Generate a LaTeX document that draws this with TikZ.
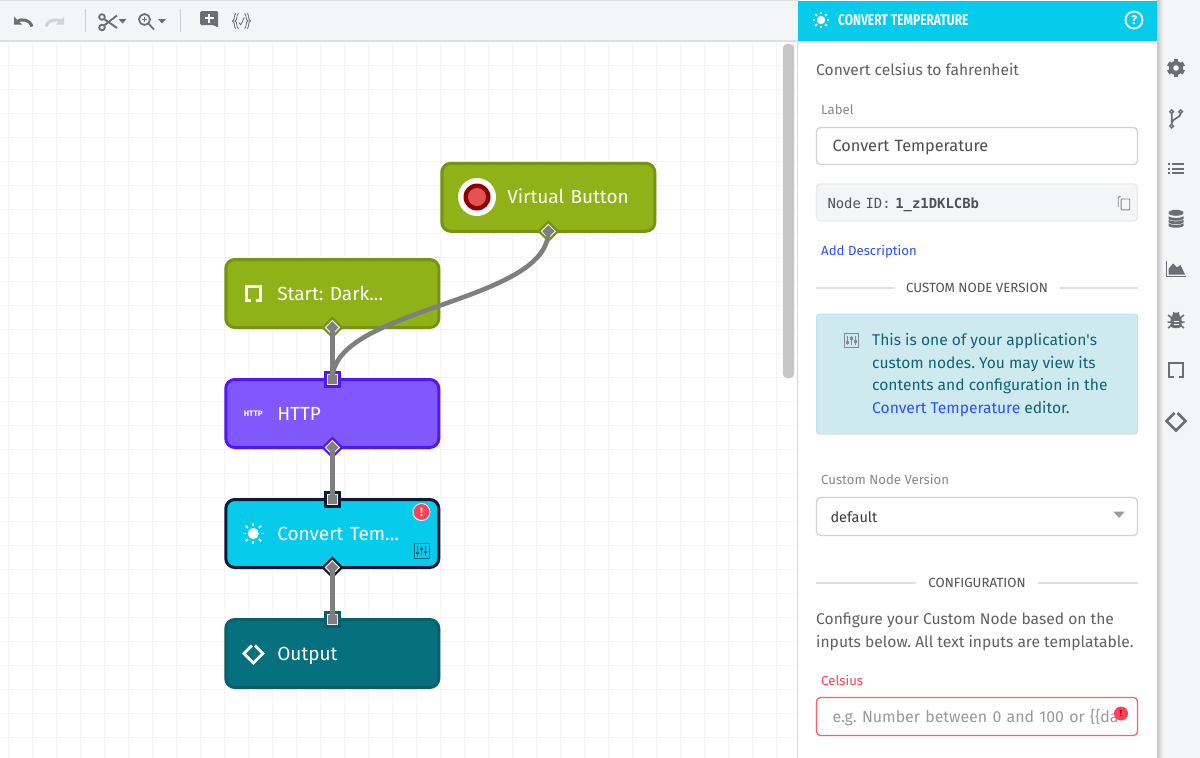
\documentclass[tikz,border=0pt]{standalone}
\usepackage{fontspec}
\setmainfont{Fira Sans}
\newfontfamily\headfont[FakeStretch=0.775]{Fira Sans}
\newfontfamily\monofont{DejaVu Sans Mono}
\usetikzlibrary{positioning,shapes.geometric}
\definecolor{canvasgrid}{HTML}{F3F4F4}
\definecolor{barback}{HTML}{F4F5F7}
\definecolor{barline}{HTML}{DFE0E2}
\definecolor{icongray}{HTML}{6B6E72}
\definecolor{wire}{HTML}{7F7F7F}
\definecolor{oliveback}{HTML}{8FB218}
\definecolor{oliveline}{HTML}{769312}
\definecolor{violetback}{HTML}{8158FE}
\definecolor{violetline}{HTML}{5017F6}
\definecolor{cyanback}{HTML}{06CBEA}
\definecolor{navyline}{HTML}{111A33}
\definecolor{tealback}{HTML}{06707E}
\definecolor{tealline}{HTML}{0A5F6A}
\definecolor{bodytext}{HTML}{5E6064}
\definecolor{softtext}{HTML}{85888C}
\definecolor{linkblue}{HTML}{2D4EFF}
\definecolor{alertred}{HTML}{FF4058}
\definecolor{infoback}{HTML}{CFEAEF}
\definecolor{infoline}{HTML}{BFE3EA}
\definecolor{infotext}{HTML}{0C6474}
\tikzstyle{block}=[rectangle,rounded corners=9,line width=3,minimum width=213,minimum height=68,text width=213,text height=18,text depth=5,inner sep=0,outer sep=0,align=left,text=white,font=\fontsize{19}{23}\selectfont,execute at begin node={\hspace*{51.5pt}}]
\tikzstyle{outerport}=[inner sep=0,outer sep=0]
\tikzstyle{grayport}=[fill=wire,draw=white!85!wire,line width=1,inner sep=0,outer sep=0]
\tikzstyle{field}=[rectangle,rounded corners=4,line width=1.3,minimum width=321,text width=289,text height=15,text depth=4,inner xsep=16,inner ysep=0,align=left]
\tikzstyle{paneltext}=[anchor=base west,inner sep=0,font=\fontsize{15.6}{22.5}\selectfont,text=bodytext,align=left]
\tikzstyle{smalllabel}=[paneltext,font=\fontsize{13.2}{16}\selectfont,text=softtext]
\tikzstyle{sectiontitle}=[inner xsep=12,inner ysep=0,font=\fontsize{13.3}{15}\selectfont,text=bodytext!85!black]
\tikzstyle{rule}=[barline,line width=1.2]
\tikzset{
	sunicon/.pic={\fill (0,0) circle (5.6);
		\foreach \a in {0,45,...,315} {\draw[rotate=\a,line width=1.8] (7.8,0) -- (10.8,0);}},
	bracketicon/.pic={\draw[line width=2.8,line join=miter] (-2.5,7) -- (-7,7) -- (-7,-7) -- (7,-7) -- (7,7) -- (2.5,7);},
	codeicon/.pic={\draw[line width=2.8,line join=miter] (-1.5,-8) -- (-9.5,0) -- (0,9.5) -- (9.5,0) -- (1.5,-8);},
	tuneicon/.pic={\draw[line width=.9] (-7.5,-7.5) rectangle (7.5,7.5);
		\foreach \x/\y in {-4/2,0/-2,4/1} {\draw[line width=1] (\x,-5) -- (\x,5);\fill (\x-1.6,\y-1.3) rectangle (\x+1.6,\y+1.3);}},
	undoicon/.pic={\draw[line width=3] (9,5) .. controls (6.5,-2.5) and (-2,-3) .. (-6,0);\fill (-9,-5) -- (-9,3.2) -- (-1,3.2) -- cycle;},
	scissoricon/.pic={\draw[line width=1.8] (-6,-5) circle (2.8) (-6,5.5) circle (2.8);
		\draw[line width=1.9] (-4,-3) -- (9,6) (-4,3.5) -- (9,-6.5);},
	zoomicon/.pic={\draw[line width=1.7] (-2,-2.5) circle (5.5) (2,1.5) -- (7.5,7.5);\draw[line width=.9] (-4.2,-2.5) -- (.2,-2.5) (-2,-4.7) -- (-2,-.3);},
	caret/.pic={\fill (-4,-2) -- (4,-2) -- (0,2.5) -- cycle;},
	commenticon/.pic={\fill[rounded corners=1.5] (-9,-9) -- (9,-9) -- (9,8) -- (5,5) -- (-9,5) -- cycle;\draw[white,line width=2] (-4.5,-2) -- (4.5,-2) (0,-6.5) -- (0,2.5);},
	bracesicon/.pic={\draw[line width=.8] (-5.5,-7.5) .. controls (-8,-7.5) and (-6,-.8) .. (-9,0) .. controls (-6,.8) and (-8,7.5) .. (-5.5,7.5)
			(-3,-7.5) .. controls (-5.5,-7.5) and (-3.5,-.8) .. (-6.5,0) .. controls (-3.5,.8) and (-5.5,7.5) .. (-3,7.5)
			(5.5,-7.5) .. controls (8,-7.5) and (6,-.8) .. (9,0) .. controls (6,.8) and (8,7.5) .. (5.5,7.5)
			(3,-7.5) .. controls (5.5,-7.5) and (3.5,-.8) .. (6.5,0) .. controls (3.5,.8) and (5.5,7.5) .. (3,7.5)
			(-2.5,1.5) -- (-.8,3.8) -- (2.8,-3.5);},
	copyicon/.pic={\draw[line width=.9,rounded corners=.8] (-3,-5.5) -- (-5,-5.5) -- (-5,3.5);\draw[line width=.9,rounded corners=.8] (-2.5,-3.5) rectangle (5,6);},
	gearicon/.pic={\foreach \a in {0,60,120} {\fill[rotate=\a] (-2.3,-9) rectangle (2.3,9);}\fill (0,0) circle (7);\fill[barback] (0,0) circle (2.8);},
	branchicon/.pic={\draw[line width=1.4] (-4.3,-6.3) circle (1.8) (4.7,-6.3) circle (1.8) (-4.3,8) circle (1.8);
		\draw[line width=1.7] (-4.3,-4.5) -- (-4.3,6.2) (4.7,-4.5) .. controls (4.7,0) and (-3.5,0) .. (-4.3,5);},
	listicon/.pic={\foreach \y in {-4.5,0,4.5} {\fill (-8,\y-1) rectangle (-6,\y+1);\fill (-4.5,\y-1) rectangle (8,\y+1);}},
	dataicon/.pic={\fill (0,-6.2) ellipse (7.5 and 3);\foreach \y in {-.5,3,6.5} {\fill (-7.5,\y-2.2) .. controls (-5,\y) and (5,\y) .. (7.5,\y-2.2) -- (7.5,\y) .. controls (7,\y+3) and (-7,\y+3) .. (-7.5,\y) -- cycle;}},
	charticon/.pic={\draw[line width=1.3] (-9.5,-8.5) -- (-9.5,7.5) -- (10,7.5);\fill (-7.5,5.5) -- (-7.5,0) -- (-3,-5.5) -- (1,-1.5) -- (4.5,-4) -- (9,5.5) -- cycle;},
	bugicon/.pic={\fill[rounded corners=3] (-5.5,-4) rectangle (5.5,8);\fill (0,-4) ellipse (4 and 3.5);
		\draw[line width=1.5] (-8,-5) -- (-4,-2) (8,-5) -- (4,-2) (-8.5,2) -- (8.5,2) (-8,8) -- (-4,5) (8,8) -- (4,5) (-2.5,-8) -- (-1.5,-5) (2.5,-8) -- (1.5,-5);
		\draw[barback,line width=1] (-2.5,1) -- (2.5,1) (-2.5,4.5) -- (2.5,4.5);}
}
\begin{document}
\frenchspacing
\begin{tikzpicture}[x=1pt,y=-1pt]
		\useasboundingbox (0,0) rectangle (1200,758);
		\fill[white] (0,0) rectangle (1200,758);
		\foreach \x in {8,32,...,800} {\draw[canvasgrid,line width=.8] (\x,42) -- (\x,758);}
		\foreach \y in {65,89,...,758} {\draw[canvasgrid,line width=.8] (0,\y) -- (797,\y);}
		\fill[barback] (0,0) rectangle (798,41);
		\draw[barline,line width=1.4] (0,41) -- (798,41);
		\draw[barline,line width=.8] (0,.5) -- (798,.5);
		\draw[barline!80!gray,line width=1] (85,9) -- (85,32);
		\draw[barline!80!gray,line width=1] (180,9) -- (180,32);
		\pic[color=icongray] at (23,21.5) {undoicon};
		\pic[color=barline!85!gray,xscale=-1] at (55,21.5) {undoicon};
		\pic[color=icongray] at (108,22) {scissoricon};
		\pic[color=icongray] at (122.5,21) {caret};
		\pic[color=icongray] at (146.5,22) {zoomicon};
		\pic[color=icongray] at (162,21) {caret};
		\pic[color=icongray] at (209,20) {commenticon};
		\pic[color=icongray] at (241.5,21) {bracesicon};
		\fill[gray!45,rounded corners=4] (783,44) rectangle (794,378);

		\node[block,fill=oliveback,draw=oliveline] (start) at (332.3,293.5) {Start: Dark...};
		\node[block,fill=violetback,draw=violetline] (http) [below=52pt of start] {HTTP};
		\node[block,fill=cyanback,draw=navyline] (convert) [below=52pt of http] {Convert Tem...};
		\node[block,fill=tealback,draw=tealline] (output) [below=52pt of convert] {Output};
		\node[block,fill=oliveback,draw=oliveline,execute at begin node={\hspace*{14pt}}] (virtual) at (548.3,197.3) {Virtual Button};

		\foreach \blk/\col in {virtual/oliveline,start/oliveline,http/violetline,convert/navyline} {
			\node[outerport,diamond,fill=\col,minimum size=22] (\blk-outer) at (\blk.south) {};
			\node[grayport,diamond,minimum size=14] (\blk-out) at (\blk.south) {};
		}
		\foreach \blk/\col in {http/violetline,convert/navyline,output/tealline} {
			\node[outerport,rectangle,fill=\col,minimum size=17.5] (\blk-outerin) at (\blk.north) {};
			\node[grayport,rectangle,minimum size=10.5] (\blk-in) at (\blk.north) {};
		}

		\draw[wire,line width=4.6] (virtual-out.center) .. controls +(0,72) and +(0,-72) .. (http-in.center);
		\draw[wire,line width=4.6] (start-out.center) -- (http-in.center);
		\draw[wire,line width=4.6] (http-out.center) -- (convert-in.center);
		\draw[wire,line width=4.6] (convert-out.center) -- (output-in.center);

		\fill[white] (477,197) circle (19);
		\fill[red!55!black] (477,197) circle (13.5);
		\fill[red!65!white!90!black] (477,197) circle (9);
		\pic[color=white] at ([xshift=27.5]start.west) {bracketicon};
		\node[text=white,inner sep=0,font=\fontsize{8}{9}\bfseries\selectfont] (httpicon) at ([xshift=27.5,yshift=-.5]http.west) {HTTP};
		\pic[color=white] at ([xshift=27.5]convert.west) {sunicon};
		\pic[color=white] at ([xshift=27.5]output.west) {codeicon};
		\node[circle,fill=alertred,draw=white,line width=.8,minimum size=17,inner sep=0,text=white,font=\fontsize{12}{12}\bfseries\selectfont] (alertbadge) at (421.5,512) {!};
		\pic[color=infotext] at (421.5,551) {tuneicon};

		\fill[barback] (1157,0) rectangle (1200,758);
		\shade[left color=gray!45,right color=barback] (1157,0) rectangle (1163,758);
		\fill[white] (798,0) rectangle (1157,758);
		\draw[gray!30,line width=1.2] (797.5,41) -- (797.5,758);
		\fill[cyanback] (798,1) rectangle (1157,41);
		\pic[color=white,scale=.75] at (821,20) {sunicon};
		\node[anchor=base west,inner sep=0,text=white,font=\headfont\bfseries\fontsize{15.5}{18}\selectfont] (paneltitle) at (838,25) {CONVERT TEMPERATURE};
		\node[circle,draw=white,line width=1.8,minimum size=17,inner sep=0,text=white,font=\fontsize{12.5}{12}\bfseries\selectfont] (helpmark) at (1134,20) {?};

		\node[paneltext] (summary) at (816,75) {Convert celsius to fahrenheit};
		\node[smalllabel] (labelname) at (821,114.5) {Label};
		\node[field,draw=gray!35,minimum height=37,font=\fontsize{16.3}{19}\selectfont,text=bodytext!80!black] (labelbox) at (977,146) {Convert Temperature};
		\node[field,draw=barline!70!white,fill=barback,minimum height=37,text width=299,inner xsep=11,font=\monofont\fontsize{13.9}{15}\selectfont,text=bodytext!85!black] (idbox) at (977,202.5) {Node ID: \textbf{1\_z1DKLCBb}};
		\pic[color=softtext,scale=1.15] at (1124,203) {copyicon};
		\node[smalllabel,text=linkblue] (adddesc) at (821,255) {Add Description};

		\node[sectiontitle] (versiontitle) at (977,288) {CUSTOM NODE VERSION};
		\draw[rule] (labelbox.west |- versiontitle.west) -- (versiontitle.west);
		\draw[rule] (versiontitle.east) -- (labelbox.east |- versiontitle.east);

		\node[rectangle,rounded corners=3,fill=infoback,draw=infoline,line width=1,minimum width=321,minimum height=120] (infobox) at (977,374) {};
		\pic[color=softtext,scale=.98] at (851.5,340.5) {tuneicon};
		\node[paneltext,anchor=north west,text=infotext,text depth=0] (infotxt) at (872,333.5) {This is one of your application\textquotesingle s\\custom nodes. You may view its\\contents and configuration in the\\{\color{linkblue}Convert Temperature} editor.};

		\node[smalllabel] (versionname) at (821,484.5) {Custom Node Version};
		\node[field,draw=gray!35,minimum height=38,text width=293,inner xsep=14,font=\fontsize{14.5}{18}\selectfont,text=bodytext!60!black] (versionbox) at (977,516.5) {default};
		\pic[color=gray!80,scale=1.4] at (1119,514.5) {caret};

		\node[sectiontitle] (configtitle) at (977,583) {CONFIGURATION};
		\draw[rule] (labelbox.west |- configtitle.west) -- (configtitle.west);
		\draw[rule] (configtitle.east) -- (labelbox.east |- configtitle.east);

		\node[paneltext,anchor=north west,text depth=0] (configtxt) at (816,613) {Configure your Custom Node based on the\\inputs below. All text inputs are templatable.};
		\node[smalllabel,text=alertred] (celsiusname) at (821,685) {Celsius};
		\node[field,draw=alertred!85!white,minimum height=38,font=\fontsize{15.9}{19}\selectfont,text=softtext!85!white] (celsiusbox) at (977,716.5) {\mbox{e.g. Number between 0 and 100 or \{\{da}};
		\node[circle,fill=alertred,minimum size=14,inner sep=0,text=red!60!black,font=\fontsize{9}{9}\bfseries\selectfont] (celsiusalert) at (1121,713.5) {!};

		\pic[color=icongray] at (1176,68) {gearicon};
		\pic[color=icongray] at (1176,118) {branchicon};
		\pic[color=icongray] at (1176,168.5) {listicon};
		\pic[color=icongray] at (1176,219) {dataicon};
		\pic[color=icongray] at (1176,269) {charticon};
		\pic[color=icongray] at (1176,320) {bugicon};
		\pic[color=icongray] at (1176,370) {bracketicon};
		\pic[color=icongray] at (1176,421) {codeicon};
	\end{tikzpicture}
\end{document}
